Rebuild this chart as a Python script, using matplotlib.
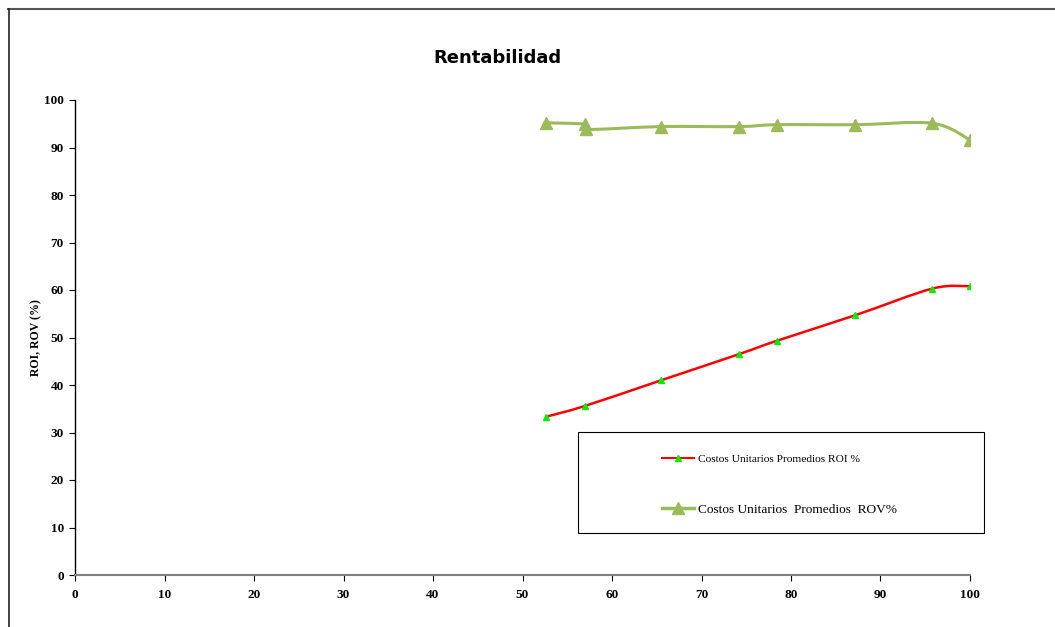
import numpy as np
import matplotlib
matplotlib.use("Agg")
import matplotlib.pyplot as plt
from matplotlib.path import Path
from matplotlib.patches import PathPatch, Rectangle
from matplotlib.lines import Line2D

# costos unitarios promedio (%) vs rentabilidad
x_roi = [52.6, 57.0, 65.5, 74.2, 78.4, 87.2, 95.8, 100.0]
roi = [33.3, 35.6, 41.0, 46.5, 49.3, 54.7, 60.3, 60.8]

x_rov = [52.6, 57.0, 57.1, 65.5, 74.2, 78.4, 87.2, 95.8, 100.0]
rov = [95.2, 94.9, 93.8, 94.4, 94.4, 94.8, 94.8, 95.1, 91.6]

xticks = list(range(0, 101, 10))
yticks = list(range(0, 101, 10))

serif = ["Liberation Serif", "DejaVu Serif"]
W, H = 1055, 627


def smooth_path(xs, ys, k=1/6):
    # bezier through the points, like the smoothed lines of a spreadsheet
    pts = np.column_stack([xs, ys])
    verts = [pts[0]]
    codes = [Path.MOVETO]
    n = len(pts)
    for i in range(n - 1):
        p0 = pts[i - 1] if i > 0 else pts[i]
        p1 = pts[i]
        p2 = pts[i + 1]
        p3 = pts[i + 2] if i + 2 < n else pts[i + 1]
        c1 = p1 + (p2 - p0) * k
        c2 = p2 - (p3 - p1) * k
        verts += [c1, c2, p2]
        codes += [Path.CURVE4] * 3
    return Path(verts, codes)


fig = plt.figure(figsize=(W / 100, H / 100), dpi=100)
ax = fig.add_axes([75 / W, 1 - 575 / H, 895 / W, 475 / H])

ax.add_patch(PathPatch(smooth_path(x_roi, roi), fill=False, color="#ff0000", lw=1.8, zorder=3))
ax.plot(x_roi, roi, ls="none", marker="^", ms=5, color="#00ee00", zorder=4)

ax.add_patch(PathPatch(smooth_path(x_rov, rov), fill=False, color="#9bbb59", lw=2.2, zorder=3))
ax.plot(x_rov, rov, ls="none", marker="^", ms=8.5, color="#9bbb59", zorder=4)

ax.set_xlim(0, 100)
ax.set_ylim(0, 100)
ax.set_xticks(xticks)
ax.set_yticks(yticks)
for lab in ax.get_xticklabels() + ax.get_yticklabels():
    lab.set_family(serif)
    lab.set_fontweight("bold")
    lab.set_fontsize(9.5)
ax.tick_params(axis="both", length=4, width=0.8, pad=6, direction="out")
ax.tick_params(axis="y", pad=4)
ax.spines["top"].set_visible(False)
ax.spines["right"].set_visible(False)
ax.spines["bottom"].set_color("#808080")
ax.spines["bottom"].set_linewidth(1.5)
ax.spines["left"].set_linewidth(1.0)

ax.set_ylabel("ROI, ROV (%)", family=serif, fontweight="bold", fontsize=8.5, labelpad=1)
fig.text(497 / W, 1 - 58 / H, "Rentabilidad", ha="center", va="center",
         fontsize=13, fontweight="bold", family=["DejaVu Sans"])

# legend frame drawn on its own, entries placed inside it
fig.add_artist(Rectangle((578 / W, 1 - 533 / H), 406 / W, 101 / H, transform=fig.transFigure,
                         fill=False, edgecolor="black", lw=0.8))
handles = [
    Line2D([], [], color="#ff0000", lw=1.5, marker="^", ms=5,
           markerfacecolor="#00ee00", markeredgecolor="#00ee00"),
    Line2D([], [], color="#9bbb59", lw=2.5, marker="^", ms=8),
]
labels = ["Costos Unitarios Promedios ROI %", "Costos Unitarios  Promedios  ROV%"]
leg = fig.legend(handles, labels, loc="upper left", bbox_to_anchor=(662 / W, 1 - 453 / H),
                 frameon=False, borderpad=0.0, labelspacing=2.95, handlelength=2.4,
                 handletextpad=0.3, borderaxespad=0.0,
                 prop={"family": serif, "size": 9.6})
leg.get_texts()[0].set_fontsize(8.2)

# outer frame (top and left only)
fig.add_artist(Line2D([8 / W, 1.0], [1 - 8.5 / H] * 2, color="#555555", lw=1.5))
fig.add_artist(Line2D([9 / W] * 2, [0.0, 1 - 8.5 / H], color="#222222", lw=1.2))

fig.savefig("out.png", dpi=100)
